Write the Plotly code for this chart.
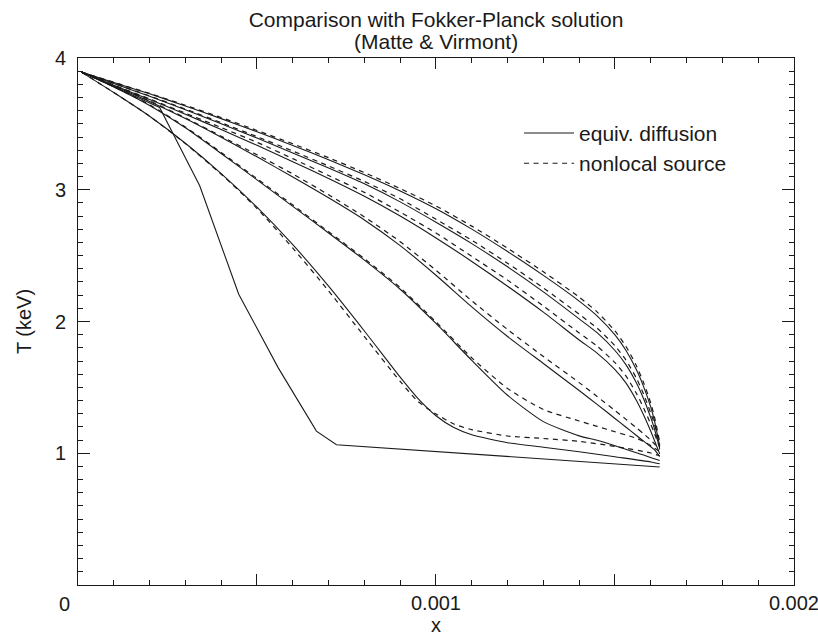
import plotly.graph_objects as go

# ---- data: temperature profiles T(x) in keV ----
# abscissa grids (x in cm)
X_GRID = [0.0000095, 0.0001, 0.0002, 0.0003, 0.0004, 0.0005, 0.0006, 0.0007,
          0.0008, 0.0009, 0.0010, 0.0011, 0.0012, 0.0013, 0.0014, 0.00145,
          0.0015, 0.00153, 0.00156, 0.00158, 0.0016, 0.00161, 0.001625]
X_FRONT = [0.0000095, 0.0001, 0.0002, 0.0003, 0.0004, 0.0005, 0.0006, 0.0007,
           0.0008, 0.0009, 0.00095, 0.0010, 0.00105, 0.0011, 0.0012, 0.0013,
           0.0014, 0.0015, 0.0016, 0.001625]
X_EARLY = [0.0000095, 0.000228, 0.000340, 0.000449, 0.000559, 0.000666,
           0.000722, 0.001625]

# equivalent-diffusion profiles (solid)
T_DIFF_0 = [3.893, 3.625, 3.030, 2.207, 1.650, 1.168, 1.065, 0.896]
T_DIFF_1 = [3.893, 3.738, 3.558, 3.353, 3.123, 2.868, 2.583, 2.268, 1.928, 1.578,
            1.415, 1.285, 1.195, 1.140, 1.080, 1.046, 1.011, 0.973, 0.934, 0.920]
T_DIFF_2 = [3.893, 3.780, 3.640, 3.470, 3.275, 3.075, 2.874, 2.672, 2.466, 2.245,
            1.985, 1.705, 1.440, 1.240, 1.132, 1.098, 1.057, 1.030, 1.003, 0.986,
            0.967, 0.958, 0.945]
T_DIFF_3 = [3.893, 3.788, 3.670, 3.540, 3.398, 3.250, 3.097, 2.939, 2.771, 2.576,
            2.351, 2.111, 1.886, 1.681, 1.476, 1.371, 1.264, 1.199, 1.135, 1.092,
            1.049, 1.027, 0.975]
T_DIFF_4 = [3.893, 3.793, 3.685, 3.573, 3.457, 3.337, 3.213, 3.085, 2.950, 2.800,
            2.634, 2.456, 2.268, 2.071, 1.860, 1.760, 1.635, 1.536, 1.401, 1.291,
            1.167, 1.099, 0.995]
T_DIFF_5 = [3.893, 3.806, 3.709, 3.607, 3.501, 3.392, 3.279, 3.165, 3.045, 2.908,
            2.753, 2.591, 2.415, 2.225, 2.020, 1.915, 1.780, 1.675, 1.534, 1.414,
            1.270, 1.188, 1.035]
T_DIFF_6 = [3.893, 3.814, 3.728, 3.636, 3.540, 3.440, 3.336, 3.228, 3.114, 2.991,
            2.856, 2.701, 2.531, 2.350, 2.155, 2.043, 1.898, 1.784, 1.634, 1.506,
            1.350, 1.250, 1.055]

# nonlocal-source profiles (dashed)
T_NL_1 = [3.893, 3.738, 3.558, 3.350, 3.118, 2.858, 2.557, 2.232, 1.886, 1.545,
          1.392, 1.298, 1.222, 1.179, 1.131, 1.112, 1.090, 1.052, 1.002, 0.980]
T_NL_2 = [3.893, 3.782, 3.645, 3.476, 3.283, 3.084, 2.884, 2.682, 2.477, 2.257,
          1.997, 1.724, 1.492, 1.332, 1.245, 1.204, 1.163, 1.139, 1.114, 1.090,
          1.059, 1.040, 1.012]
T_NL_3 = [3.893, 3.790, 3.675, 3.546, 3.406, 3.265, 3.120, 2.962, 2.794, 2.606,
          2.389, 2.157, 1.939, 1.734, 1.536, 1.431, 1.324, 1.259, 1.193, 1.148,
          1.100, 1.072, 1.030]
T_NL_4 = [3.893, 3.795, 3.690, 3.581, 3.472, 3.360, 3.236, 3.108, 2.980, 2.830,
          2.672, 2.494, 2.314, 2.117, 1.913, 1.813, 1.688, 1.589, 1.454, 1.344,
          1.220, 1.152, 1.045]
T_NL_5 = [3.893, 3.808, 3.712, 3.613, 3.509, 3.403, 3.294, 3.180, 3.063, 2.931,
          2.776, 2.617, 2.442, 2.255, 2.055, 1.950, 1.815, 1.710, 1.569, 1.449,
          1.305, 1.223, 1.065]
T_NL_6 = [3.893, 3.816, 3.731, 3.641, 3.548, 3.450, 3.349, 3.243, 3.130, 3.009,
          2.877, 2.724, 2.556, 2.377, 2.185, 2.073, 1.928, 1.814, 1.664, 1.536,
          1.380, 1.280, 1.086]

X_TICKS = [0, 0.0005, 0.001, 0.0015, 0.002]
X_TICK_TEXT = ["0", "", "0.001", "", "0.002"]
Y_TICKS = [0, 1, 2, 3, 4]
Y_TICK_TEXT = ["", "1", "2", "3", "4"]

TITLE = ["Comparison with Fokker-Planck solution", "(Matte & Virmont)"]
AXIS_TITLES = ["x", "T (keV)"]
SERIES_NAMES = ["equiv. diffusion", "nonlocal source"]

INK = "#1a1a1a"
FONT = "Liberation Sans, Arial, Helvetica, sans-serif"
DASH = "5px,4.5px"
SMOOTH = 0.6

diffusion = [(X_EARLY, T_DIFF_0, "linear"), (X_FRONT, T_DIFF_1, "spline"),
             (X_GRID, T_DIFF_2, "spline"), (X_GRID, T_DIFF_3, "spline"),
             (X_GRID, T_DIFF_4, "spline"), (X_GRID, T_DIFF_5, "spline"),
             (X_GRID, T_DIFF_6, "spline")]
nonlocal_src = [(X_FRONT, T_NL_1), (X_GRID, T_NL_2), (X_GRID, T_NL_3),
                (X_GRID, T_NL_4), (X_GRID, T_NL_5), (X_GRID, T_NL_6)]

fig = go.Figure()

for i, (xs, ts) in enumerate(nonlocal_src):
    fig.add_trace(go.Scatter(
        x=xs, y=ts, mode="lines",
        line=dict(color=INK, width=1.2, dash=DASH, shape="spline", smoothing=SMOOTH),
        name=SERIES_NAMES[1], showlegend=(i == 0), legendrank=2,
        hoverinfo="skip"))

for i, (xs, ts, shape) in enumerate(diffusion):
    line = dict(color=INK, width=1.1, shape=shape)
    if shape == "spline":
        line["smoothing"] = SMOOTH
    fig.add_trace(go.Scatter(
        x=xs, y=ts, mode="lines", line=line,
        name=SERIES_NAMES[0], showlegend=(i == 1), legendrank=1,
        hoverinfo="skip"))

axis_common = dict(
    showline=True, linecolor=INK, linewidth=1, mirror="ticks",
    ticks="inside", tickcolor=INK, tickwidth=1,
    showgrid=False, zeroline=False, ticklabeloverflow="allow",
    automargin=False,
    tickfont=dict(family=FONT, size=20, color=INK),
)

# the origin label sits left of the corner, so it is drawn as its own text
x_labels_on_axis = [""] + X_TICK_TEXT[1:]

fig.update_layout(
    width=818, height=635,
    margin=dict(l=78, r=24, t=58, b=50, autoexpand=False),
    paper_bgcolor="white", plot_bgcolor="white",
    font=dict(family=FONT, size=20, color=INK),
    title=dict(
        text=TITLE[0],
        x=0.5, xref="paper", xanchor="center",
        y=1 - 20 / 635, yref="container", yanchor="middle",
        font=dict(family=FONT, size=21, color=INK)),
    legend=dict(
        x=0.616, y=0.896, xanchor="left", yanchor="top",
        bgcolor="rgba(0,0,0,0)", borderwidth=0,
        font=dict(family=FONT, size=21, color=INK),
        itemwidth=50, tracegroupgap=0),
    xaxis=dict(
        range=[0, 0.0020001], tickmode="array", tickvals=X_TICKS,
        ticktext=x_labels_on_axis,
        ticklen=11, ticklabelstandoff=0,
        minor=dict(ticks="inside", ticklen=5, tickwidth=1, tickcolor=INK,
                   tickmode="linear", tick0=0, dtick=0.0001, showgrid=False),
        **axis_common),
    yaxis=dict(
        range=[0, 4], tickmode="array", tickvals=Y_TICKS, ticktext=Y_TICK_TEXT,
        ticklen=12, ticklabelstandoff=7,
        minor=dict(ticks="inside", ticklen=5, tickwidth=1, tickcolor=INK,
                   tickmode="linear", tick0=0, dtick=0.1, showgrid=False),
        title=dict(text=AXIS_TITLES[1], standoff=17,
                   font=dict(family=FONT, size=20, color=INK)),
        **axis_common),
    annotations=[
        dict(text=TITLE[1], xref="paper", yref="paper", x=0.5, y=1 + 17 / 527,
             xanchor="center", yanchor="middle", showarrow=False,
             font=dict(family=FONT, size=21, color=INK)),
        dict(text=X_TICK_TEXT[0], xref="x", yref="y", x=X_TICKS[0], y=Y_TICKS[0],
             xanchor="center", yanchor="middle", xshift=-14, yshift=-19,
             showarrow=False, font=dict(family=FONT, size=20, color=INK)),
        dict(text=AXIS_TITLES[0], xref="paper", yref="paper", x=0.5, y=-40 / 527,
             xanchor="center", yanchor="middle", showarrow=False,
             font=dict(family=FONT, size=20, color=INK)),
    ],
)

fig.write_html("out.html")
